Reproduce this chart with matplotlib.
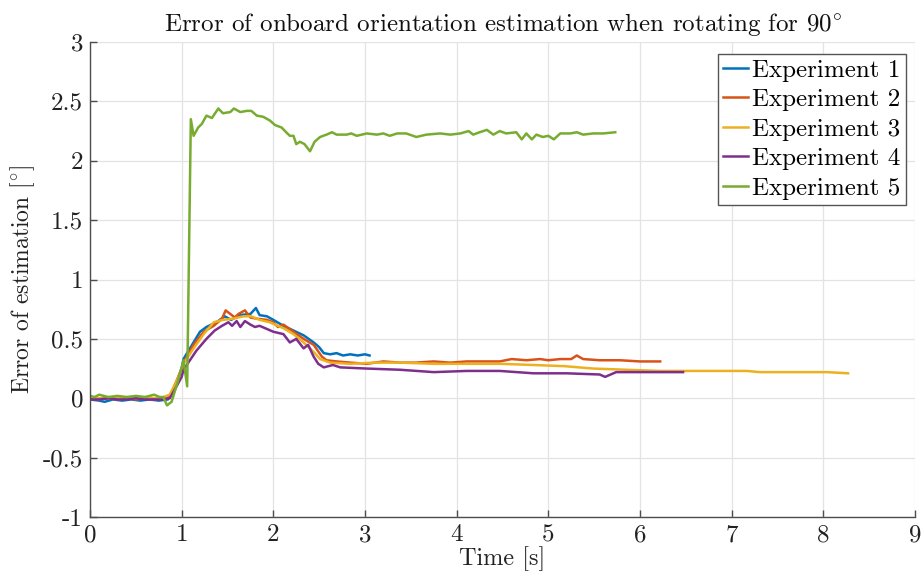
import matplotlib
matplotlib.use("Agg")
import matplotlib.pyplot as plt

plt.rcParams['font.family'] = ['cmr10', 'DejaVu Serif']
plt.rcParams['mathtext.fontset'] = 'cm'
plt.rcParams['axes.unicode_minus'] = False

# ---------------- data ----------------
t_exp1 = [0.0, 0.1, 0.16, 0.25, 0.35, 0.45, 0.55, 0.65, 0.75, 0.85, 0.92, 1.0, 1.02, 1.09, 1.2,
          1.27, 1.38, 1.47, 1.54, 1.63, 1.75, 1.81, 1.85, 1.93, 2.0, 2.11, 2.22, 2.33, 2.44, 2.5,
          2.55, 2.62, 2.69, 2.76, 2.84, 2.92, 3.0, 3.05]
v_exp1 = [-0.01, -0.02, -0.03, -0.01, -0.02, -0.01, -0.02, -0.01, -0.02, -0.01, 0.08, 0.25, 0.33,
          0.42, 0.56, 0.60, 0.64, 0.69, 0.66, 0.70, 0.71, 0.76, 0.70, 0.69, 0.66, 0.61, 0.57, 0.53,
          0.47, 0.43, 0.38, 0.37, 0.38, 0.36, 0.37, 0.36, 0.37, 0.36]

t_exp2 = [0.0, 0.1, 0.2, 0.3, 0.4, 0.5, 0.6, 0.7, 0.8, 0.87, 0.93, 1.0, 1.02, 1.13, 1.24, 1.35,
          1.44, 1.48, 1.53, 1.58, 1.62, 1.69, 1.75, 1.82, 1.93, 2.0, 2.05, 2.11, 2.22, 2.33, 2.44,
          2.53, 2.58, 2.69, 2.84, 3.02, 3.2, 3.38, 3.55, 3.75, 3.93, 4.11, 4.33, 4.47, 4.6, 4.76,
          4.91, 5.0, 5.13, 5.25, 5.31, 5.38, 5.56, 5.78, 6.0, 6.22]
v_exp2 = [0.0, -0.01, 0.0, -0.01, 0.0, -0.01, 0.0, -0.01, 0.0, 0.02, 0.12, 0.25, 0.30, 0.45,
          0.56, 0.61, 0.67, 0.74, 0.71, 0.68, 0.71, 0.74, 0.68, 0.67, 0.66, 0.64, 0.60, 0.62,
          0.56, 0.50, 0.45, 0.35, 0.32, 0.31, 0.30, 0.29, 0.31, 0.30, 0.30, 0.31, 0.30, 0.31,
          0.31, 0.31, 0.33, 0.32, 0.33, 0.32, 0.33, 0.33, 0.36, 0.33, 0.32, 0.32, 0.31, 0.31]

t_exp3 = [0.0, 0.1, 0.2, 0.3, 0.4, 0.5, 0.6, 0.7, 0.8, 0.87, 0.93, 1.0, 1.02, 1.13, 1.24, 1.35,
          1.45, 1.56, 1.67, 1.76, 1.85, 1.96, 2.11, 2.22, 2.33, 2.44, 2.51, 2.62, 2.84, 3.1, 3.38,
          3.75, 4.11, 4.47, 4.84, 5.18, 5.49, 5.85, 6.22, 6.58, 6.95, 7.16, 7.31, 7.67, 8.04, 8.27]
v_exp3 = [0.01, 0.0, 0.01, 0.0, 0.01, 0.0, 0.01, 0.0, 0.01, 0.03, 0.12, 0.24, 0.29, 0.42, 0.54,
          0.64, 0.66, 0.67, 0.69, 0.69, 0.66, 0.64, 0.59, 0.54, 0.47, 0.39, 0.33, 0.30, 0.29,
          0.30, 0.30, 0.29, 0.29, 0.29, 0.28, 0.27, 0.25, 0.24, 0.23, 0.23, 0.23, 0.23, 0.22,
          0.22, 0.22, 0.21]

t_exp4 = [0.0, 0.1, 0.2, 0.3, 0.4, 0.5, 0.6, 0.7, 0.8, 0.87, 0.93, 1.0, 1.02, 1.09, 1.16, 1.27,
          1.36, 1.44, 1.51, 1.55, 1.6, 1.64, 1.69, 1.75, 1.8, 1.85, 1.91, 2.0, 2.11, 2.18, 2.25,
          2.33, 2.38, 2.44, 2.49, 2.55, 2.65, 2.73, 3.02, 3.38, 3.75, 4.11, 4.47, 4.84, 5.2, 5.56,
          5.62, 5.74, 5.93, 6.29, 6.47]
v_exp4 = [-0.01, -0.01, 0.0, -0.01, -0.01, 0.0, -0.01, -0.01, -0.01, 0.0, 0.08, 0.18, 0.24, 0.32,
          0.40, 0.50, 0.57, 0.61, 0.64, 0.61, 0.65, 0.60, 0.65, 0.62, 0.60, 0.61, 0.59, 0.56,
          0.54, 0.47, 0.50, 0.42, 0.45, 0.35, 0.29, 0.26, 0.28, 0.26, 0.25, 0.24, 0.22, 0.23,
          0.23, 0.21, 0.21, 0.20, 0.18, 0.22, 0.22, 0.22, 0.22]

t_exp5 = [0.0, 0.05, 0.1, 0.2, 0.3, 0.4, 0.5, 0.6, 0.7, 0.76, 0.8, 0.84, 0.89, 0.95, 1.0, 1.02,
          1.06, 1.10, 1.13, 1.18, 1.22, 1.27, 1.33, 1.40, 1.45, 1.53, 1.57, 1.64, 1.71, 1.76,
          1.82, 1.89, 1.96, 2.02, 2.09, 2.14, 2.18, 2.22, 2.25, 2.29, 2.34, 2.40, 2.45, 2.51, 2.58,
          2.64, 2.69, 2.80, 2.85, 2.91, 3.02, 3.13, 3.20, 3.27, 3.35, 3.45, 3.56, 3.67, 3.82,
          3.93, 4.04, 4.13, 4.18, 4.25, 4.33, 4.40, 4.47, 4.54, 4.65, 4.71, 4.76, 4.82, 4.87,
          4.94, 5.00, 5.06, 5.13, 5.24, 5.31, 5.38, 5.49, 5.60, 5.73]
v_exp5 = [0.02, 0.01, 0.03, 0.01, 0.02, 0.01, 0.02, 0.01, 0.03, 0.01, 0.01, -0.06, -0.03, 0.12,
          0.26, 0.32, 0.10, 2.35, 2.21, 2.28, 2.31, 2.38, 2.36, 2.44, 2.40, 2.41, 2.44, 2.41,
          2.42, 2.42, 2.38, 2.37, 2.34, 2.30, 2.28, 2.24, 2.21, 2.21, 2.14, 2.16, 2.14, 2.08,
          2.16, 2.20, 2.22, 2.24, 2.22, 2.22, 2.23, 2.21, 2.23, 2.22, 2.23, 2.21, 2.23, 2.23,
          2.20, 2.22, 2.23, 2.22, 2.23, 2.25, 2.22, 2.24, 2.26, 2.22, 2.25, 2.23, 2.24, 2.18,
          2.23, 2.18, 2.22, 2.20, 2.21, 2.18, 2.23, 2.23, 2.24, 2.22, 2.23, 2.23, 2.24]

labels = ['Experiment 1', 'Experiment 2', 'Experiment 3', 'Experiment 4', 'Experiment 5']
colors = ['#0072BD', '#D95319', '#EDB120', '#7E2F8E', '#77AC30']

x_ticks = [0, 1, 2, 3, 4, 5, 6, 7, 8, 9]
x_ticklabels = ['0', '1', '2', '3', '4', '5', '6', '7', '8', '9']
y_ticks = [-1, -0.5, 0, 0.5, 1, 1.5, 2, 2.5, 3]
y_ticklabels = ['-1', '-0.5', '0', '0.5', '1', '1.5', '2', '2.5', '3']

title = r'Error of onboard orientation estimation when rotating for 90$^{\circ}$'
xlabel = 'Time [s]'
ylabel = r'Error of estimation [$^{\circ}$]'

# ---------------- plot ----------------
fig = plt.figure(figsize=(9.23, 5.81), dpi=100)
ax = fig.add_axes([90 / 923, 64 / 581, 825 / 923, 475 / 581])

series = [(t_exp1, v_exp1), (t_exp2, v_exp2), (t_exp3, v_exp3), (t_exp4, v_exp4), (t_exp5, v_exp5)]
for (t, v), lab, c in zip(series, labels, colors):
    ax.plot(t, v, color=c, lw=1.8, label=lab)

ax.set_xlim(0, 9)
ax.set_ylim(-1, 3)
ax.set_xticks(x_ticks)
ax.set_xticklabels(x_ticklabels)
ax.set_yticks(y_ticks)
ax.set_yticklabels(y_ticklabels)
ax.grid(True, color='#e3e3e3', lw=0.9)
ax.set_axisbelow(True)
for s in ['top', 'right']:
    ax.spines[s].set_visible(False)
for s in ['left', 'bottom']:
    ax.spines[s].set_color('#4d4d4d')
    ax.spines[s].set_linewidth(1.0)
ax.tick_params(direction='in', length=5, width=1.0, color='#4d4d4d', labelsize=18,
               labelcolor='#222222', pad=5)

ax.set_title(title, fontsize=18, pad=8, color='#111111')
ax.set_xlabel(xlabel, fontsize=17.5, labelpad=0, color='#222222')
ax.set_ylabel(ylabel, fontsize=17, labelpad=4, color='#222222')

leg = ax.legend(loc='upper right', bbox_to_anchor=(0.995, 0.985), fontsize=18, fancybox=False,
                framealpha=1, edgecolor='#555555', handlelength=1.0, handletextpad=0.2,
                borderpad=0.2, labelspacing=0.28, borderaxespad=0.2)
leg.get_frame().set_linewidth(1.0)

fig.savefig('out.png', dpi=100)
